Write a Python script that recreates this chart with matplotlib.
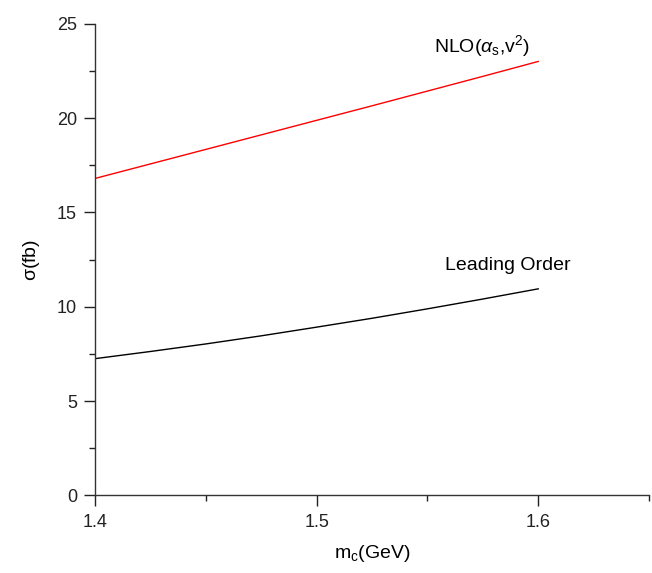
import matplotlib
matplotlib.use("Agg")
import matplotlib.pyplot as plt
from matplotlib.ticker import MultipleLocator

plt.rcParams['font.family'] = ['Liberation Sans', 'DejaVu Sans']
plt.rcParams['mathtext.fontset'] = 'custom'
plt.rcParams['mathtext.rm'] = 'Liberation Sans'
plt.rcParams['mathtext.it'] = 'Liberation Sans:italic'
plt.rcParams['mathtext.sf'] = 'Liberation Sans'

mc = [1.400, 1.425, 1.450, 1.475, 1.500, 1.525, 1.550, 1.575, 1.600]
nlo = [16.8, 17.57, 18.34, 19.11, 19.88, 20.65, 21.43, 22.21, 23.0]
lo = [7.25, 7.63, 8.03, 8.46, 8.92, 9.39, 9.89, 10.41, 10.95]

fig = plt.figure(figsize=(6.52, 5.73), dpi=100)
ax = fig.add_axes([0.1457, 0.1353, 0.8497, 0.8233])
ax.plot(mc, nlo, color='red', lw=1.0)
ax.plot(mc, lo, color='black', lw=1.0)

ax.set_xlim(1.4, 1.65)
ax.set_ylim(0, 25)
ax.xaxis.set_major_locator(MultipleLocator(0.1))
ax.xaxis.set_minor_locator(MultipleLocator(0.05))
ax.yaxis.set_major_locator(MultipleLocator(5))
ax.yaxis.set_minor_locator(MultipleLocator(2.5))
ax.set_xticks([1.4, 1.5, 1.6])
ax.set_xticklabels(['1.4', '1.5', '1.6'])
for s in ['top', 'right']:
    ax.spines[s].set_visible(False)
for s in ['left', 'bottom']:
    ax.spines[s].set_color('#333333')
    ax.spines[s].set_linewidth(1.0)
ax.tick_params(which='major', direction='out', length=8, width=1.0, labelsize=13, colors='#222222', pad=5)
ax.tick_params(which='minor', direction='out', length=4, width=1.0, colors='#222222')

ax.set_xlabel(r'm$_\mathregular{c}$(GeV)', fontsize=14, labelpad=9)
ax.set_ylabel(r'$\mathregular{\sigma}$(fb)', fontsize=14, labelpad=11)

ax.text(1.553, 23.5, r'NLO($\alpha_\mathregular{s}$,v$^\mathregular{2}$)', fontsize=14, ha='left', va='baseline')
ax.text(1.558, 11.95, 'Leading Order', fontsize=14, ha='left', va='baseline')

fig.savefig('out.png', dpi=100)
